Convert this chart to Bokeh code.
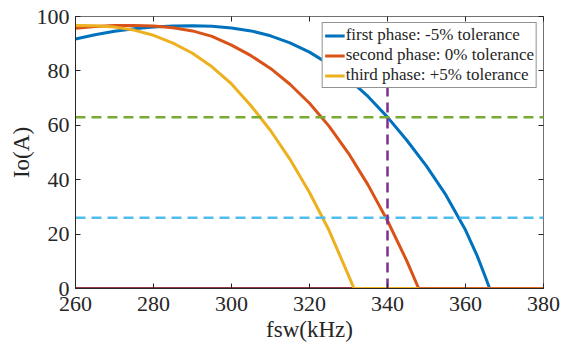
from bokeh.plotting import figure
from bokeh.models import LinearAxis, Range1d, FixedTicker, Legend, LegendItem
from bokeh.embed import file_html
from bokeh.resources import INLINE

# ---- data ----
blue_f = [260, 265, 270, 275, 280, 285, 290, 295, 300, 305, 310, 315, 320, 325, 330, 335,
          340, 345, 350, 355, 360, 363, 365, 366.2]
blue_io = [91.7, 93.3, 94.6, 95.5, 96.1, 96.5, 96.6, 96.4, 95.8, 94.7, 92.9, 90.3, 86.9, 82.5, 77.1, 70.6,
           63.0, 54.4, 45.0, 34.3, 21.5, 12.0, 4.6, 0.0]

orange_f = [260, 265, 270, 275, 280, 285, 290, 295, 300, 305, 310, 315, 320, 325, 330, 335,
            340, 345, 348]
orange_io = [95.7, 96.3, 96.65, 96.7, 96.5, 95.9, 94.7, 92.7, 89.5, 85.6, 80.9, 75.1, 68.1, 59.7, 49.7, 38.1,
             24.9, 10.0, 0.0]

yellow_f = [260, 265, 270, 275, 280, 285, 290, 295, 300, 305, 310, 315, 320, 325, 330, 331.4]
yellow_io = [96.7, 96.6, 96.1, 95.0, 93.1, 90.2, 86.5, 81.5, 75.2, 67.2, 58.1, 47.5, 35.3, 21.4, 4.8, 0.0]

base_f = [260, 380]
base_io = [0, 0]
yellow_tail_f = [331.4, 348]
yellow_tail_io = [0, 0]
orange_tail_f = [348, 380]
orange_tail_io = [0, 0]

upper_limit = 63
lower_limit = 26
f_op = 340
h_f = [260, 380]
v_io = [0, 100]

x_ticks = [260, 280, 300, 320, 340, 360, 380]
y_ticks = [0, 20, 40, 60, 80, 100]

labels = ["first phase: -5% tolerance", "second phase: 0% tolerance", "third phase: +5% tolerance"]

FONT = "Liberation Serif"
AX = "#262626"

p = figure(width=565, height=345, x_range=Range1d(260, 380), y_range=Range1d(0, 100),
           output_backend="svg", toolbar_location=None,
           min_border_left=75, min_border_right=22, min_border_top=16, min_border_bottom=57)
p.grid.visible = False
p.outline_line_color = "#707070"
p.outline_line_width = 1

for ax, tk in ((p.xaxis[0], x_ticks), (p.yaxis[0], y_ticks)):
    ax.ticker = FixedTicker(ticks=tk)
    ax.major_tick_in = 5
    ax.major_tick_out = 0
    ax.minor_tick_line_color = None
    ax.axis_line_color = AX
    ax.major_tick_line_color = AX
    ax.major_label_text_font = FONT
    ax.major_label_text_font_size = "22px"
    ax.major_label_text_color = AX
    ax.axis_label_text_font = FONT
    ax.axis_label_text_font_size = "23px"
    ax.axis_label_text_font_style = "normal"
    ax.axis_label_text_color = AX

p.xaxis[0].axis_label = "fsw(kHz)"
p.yaxis[0].axis_label = "Io(A)"
p.xaxis[0].major_label_standoff = 8
p.xaxis[0].axis_label_standoff = 3
p.yaxis[0].major_label_standoff = 6
p.yaxis[0].axis_label_standoff = 0

top = LinearAxis(ticker=FixedTicker(ticks=x_ticks),
                 major_label_overrides={t: "" for t in x_ticks},
                 major_label_text_font_size="1px", major_label_standoff=0,
                 major_tick_in=5, major_tick_out=0, minor_tick_line_color=None,
                 axis_line_color=None, major_tick_line_color=AX)
right = LinearAxis(ticker=FixedTicker(ticks=y_ticks),
                   major_label_overrides={t: "" for t in y_ticks},
                   major_label_text_font_size="1px", major_label_standoff=0,
                   major_tick_in=5, major_tick_out=0, minor_tick_line_color=None,
                   axis_line_color=None, major_tick_line_color=AX)
p.add_layout(top, "above")
p.add_layout(right, "right")

# baseline
p.line(base_f, base_io, line_color="#94394A", line_width=3)

r_blue = p.line(blue_f, blue_io, line_color="#0072BD", line_width=3)
r_orange = p.line(orange_f, orange_io, line_color="#D95319", line_width=3)
r_yellow = p.line(yellow_f, yellow_io, line_color="#EDB120", line_width=3)
p.line(yellow_tail_f, yellow_tail_io, line_color="#EDB120", line_width=3)
p.line(orange_tail_f, orange_tail_io, line_color="#DC6A1E", line_width=3)

# reference lines
p.line(h_f, [upper_limit, upper_limit], line_color="#77AC30", line_width=2.5, line_dash="10 6")
p.line(h_f, [lower_limit, lower_limit], line_color="#4DBEEE", line_width=2.5, line_dash="10 6")
p.line([f_op, f_op], v_io, line_color="#7E2F8E", line_width=2.5, line_dash="10 6")

legend = Legend(items=[LegendItem(label=labels[0], renderers=[r_blue]),
                       LegendItem(label=labels[1], renderers=[r_orange]),
                       LegendItem(label=labels[2], renderers=[r_yellow])],
                location="top_right", margin=6, padding=2, spacing=0,
                label_height=19, glyph_height=19, glyph_width=20, label_standoff=1,
                border_line_color=AX, border_line_width=1,
                label_text_font=FONT, label_text_font_size="17px", label_text_color=AX,
                background_fill_color="white", background_fill_alpha=1)
p.add_layout(legend)

open("out.html", "w").write(file_html(p, INLINE))
